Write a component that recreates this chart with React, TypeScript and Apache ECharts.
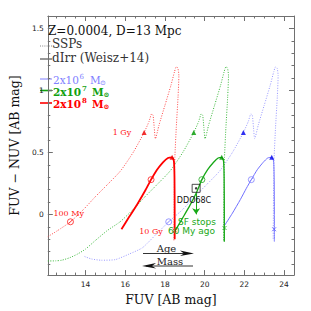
import React, { useEffect, useRef } from "react";
import * as echarts from "echarts";

// Axis ranges and ticks
const X_MIN = 12.1;
const X_MAX = 24.5;
const Y_MIN = -0.49;
const Y_MAX = 1.6;
const xMajor = [14, 16, 18, 20, 22, 24];
const xMinor = [12.5, 13, 13.5, 14.5, 15, 15.5, 16.5, 17, 17.5, 18.5, 19, 19.5, 20.5, 21, 21.5, 22.5, 23, 23.5, 24.5];
const yMajor = [0, 0.5, 1, 1.5];
const yMinor = [-0.4, -0.3, -0.2, -0.1, 0.1, 0.2, 0.3, 0.4, 0.6, 0.7, 0.8, 0.9, 1.1, 1.2, 1.3, 1.4];

// SSP tracks (dotted)
const sspRed = [
  [12.1, -0.18], [12.6, -0.13], [13.24, -0.06], [13.9, 0.04], [14.48, 0.14], [15.1, 0.24], [15.76, 0.35],
  [16.4, 0.5], [16.95, 0.66], [17.2, 0.75], [17.33, 0.81], [17.4, 0.8], [17.46, 0.7], [17.52, 0.61],
  [17.7, 0.72], [18.0, 0.88], [18.3, 1.04], [18.48, 1.15], [18.57, 1.19], [18.65, 1.18], [18.7, 1.12],
  [18.66, 0.95], [18.57, 0.7], [18.5, 0.46], [18.47, 0.2], [18.46, -0.05], [18.45, -0.21],
];
const sspGreen = [
  [12.1, -0.376], [12.5, -0.375], [12.8, -0.37], [13.2, -0.35], [13.6, -0.32], [14.0, -0.28], [14.5, -0.21],
  [15.1, -0.13], [15.74, -0.06], [16.4, 0.04], [16.98, 0.14], [17.6, 0.24], [18.26, 0.35], [18.9, 0.5],
  [19.45, 0.66], [19.7, 0.75], [19.83, 0.81], [19.9, 0.8], [19.96, 0.7], [20.02, 0.61], [20.2, 0.72],
  [20.5, 0.88], [20.8, 1.04], [20.98, 1.15], [21.07, 1.19], [21.15, 1.18], [21.2, 1.12], [21.16, 0.95],
  [21.07, 0.7], [21.0, 0.46], [20.97, 0.2], [20.96, -0.05], [20.95, -0.21],
];
const sspBlue = [
  [13.95, -0.34], [14.3, -0.36], [14.8, -0.37], [15.5, -0.365], [16.2, -0.32], [16.86, -0.27], [17.5, -0.17],
  [18.19, -0.06], [18.9, 0.04], [19.48, 0.14], [20.1, 0.24], [20.76, 0.35], [21.4, 0.5], [21.95, 0.66],
  [22.2, 0.75], [22.33, 0.81], [22.4, 0.8], [22.46, 0.7], [22.52, 0.61], [22.7, 0.72], [23.0, 0.88],
  [23.3, 1.04], [23.48, 1.15], [23.57, 1.19], [23.65, 1.18], [23.7, 1.12], [23.66, 0.95], [23.57, 0.7],
  [23.5, 0.46], [23.47, 0.2], [23.46, -0.05], [23.45, -0.21],
];

// dIrr tracks (solid)
const dirrRed = [
  [15.81, -0.12], [16.2, -0.02], [16.6, 0.08], [17.0, 0.19], [17.3, 0.28], [17.6, 0.36], [17.9, 0.42],
  [18.15, 0.455], [18.36, 0.46], [18.45, 0.43], [18.48, 0.3], [18.49, 0.0], [18.49, -0.2],
];
const dirrGreen = [
  [18.45, -0.15], [18.85, -0.04], [19.25, 0.07], [19.57, 0.17], [19.86, 0.28], [20.15, 0.36], [20.45, 0.42],
  [20.68, 0.455], [20.86, 0.46], [20.95, 0.43], [20.98, 0.3], [20.99, 0.0], [20.99, -0.22],
];
const dirrBlue = [
  [21.0, -0.09], [21.4, 0.01], [21.8, 0.12], [22.1, 0.21], [22.35, 0.28], [22.65, 0.36], [22.95, 0.42],
  [23.18, 0.455], [23.38, 0.46], [23.47, 0.43], [23.5, 0.3], [23.51, 0.0], [23.51, -0.22],
];

// Age markers
const circRed = [[13.24, -0.06], [17.3, 0.28]];
const circGreen = [[19.86, 0.28]];
const circBlue = [[18.19, -0.06], [22.35, 0.28]];
const triRed = [[16.95, 0.66], [18.36, 0.46]];
const triGreen = [[19.45, 0.66], [20.86, 0.46]];
const triBlue = [[21.95, 0.66], [23.38, 0.46]];
const crossRed = [[18.5, -0.13]];
const crossGreen = [[21.0, -0.11]];
const crossBlue = [[23.5, -0.12]];

// Observed galaxy
const ddo68c = [[19.57, 0.21]];
const sfArrow = [[19.57, 0.17], [19.57, 0.0]];

const SERIF = "'DejaVu Serif', serif";
const SANS = "'DejaVu Sans', sans-serif";

const CIRC = "path://M10,5A5,5,0,1,1,0,5A5,5,0,1,1,10,5ZM1.8,8.2L8.2,1.8";
const CROSS = "path://M0,0L10,10M10,0L0,10";

function lineSeries(data: number[][], color: string, width: number, type: any, z: number) {
  return {
    type: "line",
    data,
    symbol: "none",
    showSymbol: false,
    smooth: 0.2,
    lineStyle: { color, width, type },
    z,
    silent: true,
  };
}

function markSeries(data: number[][], symbol: string, size: number, color: string, filled: boolean) {
  return {
    type: "scatter",
    data,
    symbol,
    symbolSize: size,
    itemStyle: filled
      ? { color }
      : { color: "transparent", borderColor: color, borderWidth: 1 },
    z: 5,
    silent: true,
  };
}

function txt(x: number, y: number, text: string, font: string, fill: string, align = "left") {
  return {
    type: "text",
    x,
    y,
    z: 10,
    style: {
      text,
      font,
      fill,
      align,
      verticalAlign: "middle",
      textAlign: align,
      textVerticalAlign: "middle",
    },
  };
}

function massLegend(y: number, exp: string, color: string, bold: boolean, xs: number[]) {
  const w = bold ? "bold " : "";
  return [
    { type: "line", shape: { x1: 40, y1: y - 1, x2: 52, y2: y - 1 }, style: { stroke: color, lineWidth: bold ? 1.6 : 1 } },
    txt(xs[0], y, "2x10", `${w}10.5px ${SERIF}`, color),
    txt(xs[1], y - 3.5, exp, `${w}7px ${SERIF}`, color),
    txt(xs[2], y, "M", `${w}10.5px ${SERIF}`, color),
    txt(xs[3], y + 2.5, "\u2299", `${w}7px ${SERIF}`, color),
  ];
}

export default function App() {
  const ref = useRef<HTMLDivElement>(null);
  useEffect(() => {
    if (!ref.current) return;
    const chart = echarts.init(ref.current, null, { renderer: "svg" });
    const axisCol = "#707070";
    const xBase = {
      type: "value",
      min: X_MIN,
      max: X_MAX,
      splitLine: { show: false },
    };
    const yBase = {
      type: "value",
      min: Y_MIN,
      max: Y_MAX,
      splitLine: { show: false },
    };
    const lineOn = { show: true, onZero: false, lineStyle: { color: axisCol, width: 1 } };
    const lineOff = { show: false, onZero: false };
    const labelStyle = { fontSize: 7.5, color: "#222", fontFamily: SANS };
    const major = (vals: number[]) => ({ show: true, inside: true, length: 5, customValues: vals, lineStyle: { color: axisCol } });
    const minor = (vals: number[]) => ({ show: true, inside: true, length: 2.5, customValues: vals, lineStyle: { color: axisCol } });
    const option: any = {
      animation: false,
      backgroundColor: "#ffffff",
      grid: { left: 33, right: 17, top: 16, bottom: 34, containLabel: false },
      xAxis: [
        {
          ...xBase,
          position: "bottom",
          axisLine: lineOn,
          axisTick: major(xMajor),
          axisLabel: { show: true, customValues: xMajor, margin: 5, ...labelStyle },
          name: "FUV [AB mag]",
          nameLocation: "middle",
          nameGap: 15,
          nameTextStyle: { fontFamily: SERIF, fontSize: 12.5, color: "#111" },
        },
        { ...xBase, position: "bottom", axisLine: lineOff, axisTick: minor(xMinor), axisLabel: { show: false } },
        { ...xBase, position: "top", axisLine: lineOn, axisTick: major(xMajor), axisLabel: { show: false } },
        { ...xBase, position: "top", axisLine: lineOff, axisTick: minor(xMinor), axisLabel: { show: false } },
      ],
      yAxis: [
        {
          ...yBase,
          position: "left",
          axisLine: lineOn,
          axisTick: major(yMajor),
          axisLabel: { show: true, customValues: yMajor, margin: 4, ...labelStyle },
          name: "FUV \u2212 NUV [AB mag]",
          nameLocation: "middle",
          nameGap: 17,
          nameTextStyle: { fontFamily: SERIF, fontSize: 12.5, color: "#111" },
        },
        { ...yBase, position: "left", axisLine: lineOff, axisTick: minor(yMinor), axisLabel: { show: false } },
        { ...yBase, position: "right", axisLine: lineOn, axisTick: major(yMajor), axisLabel: { show: false } },
        { ...yBase, position: "right", axisLine: lineOff, axisTick: minor(yMinor), axisLabel: { show: false } },
      ],
      series: [
        lineSeries(sspBlue, "#9a9aff", 1, [1, 1.5], 1),
        lineSeries(sspGreen, "#3cb83c", 1, [1, 1.5], 1),
        lineSeries(sspRed, "#ff4a4a", 1, [1, 1.5], 1),
        lineSeries(dirrBlue, "#7070ff", 1, "solid", 2),
        lineSeries(dirrGreen, "#18a818", 1.3, "solid", 2),
        lineSeries(dirrRed, "#ff0000", 1.8, "solid", 2),
        markSeries(circRed, CIRC, 6, "#ff1a1a", false),
        markSeries(circGreen, CIRC, 6, "#22aa22", false),
        markSeries(circBlue, CIRC, 6, "#8080ff", false),
        markSeries(triRed, "triangle", 5, "#ee0000", true),
        markSeries(triGreen, "triangle", 5, "#009900", true),
        markSeries(triBlue, "triangle", 5, "#0000ee", true),
        markSeries(crossRed, CROSS, 4, "#ff0000", false),
        markSeries(crossGreen, CROSS, 4, "#22aa22", false),
        markSeries(crossBlue, CROSS, 4, "#6060ff", false),
        {
          type: "lines",
          coordinateSystem: "cartesian2d",
          data: [{ coords: sfArrow }],
          symbol: ["none", "arrow"],
          symbolSize: 6,
          lineStyle: { color: "#18a818", width: 1, opacity: 1 },
          z: 6,
          silent: true,
        },
        {
          type: "scatter",
          data: ddo68c,
          symbol: "rect",
          symbolSize: 8,
          itemStyle: { color: "transparent", borderColor: "#222", borderWidth: 1 },
          z: 7,
          silent: true,
        },
        {
          type: "scatter",
          data: ddo68c,
          symbol: "circle",
          symbolSize: 2.5,
          itemStyle: { color: "#111" },
          z: 8,
          silent: true,
        },
      ],
      graphic: [
        txt(48, 31, "Z=0.0004, D=13 Mpc", `12px ${SERIF}`, "#111"),
        { type: "line", shape: { x1: 40, y1: 46, x2: 52, y2: 46 }, style: { stroke: "#888", lineWidth: 1, lineDash: [1, 1.2] } },
        txt(52, 43.5, "SSPs", `12px ${SERIF}`, "#333"),
        { type: "line", shape: { x1: 40, y1: 59, x2: 52, y2: 59 }, style: { stroke: "#333", lineWidth: 1 } },
        txt(52, 58, "dIrr (Weisz+14)", `12px ${SERIF}`, "#333"),
        ...massLegend(80, "6", "#8080ff", false, [53, 79.5, 90, 100]),
        ...massLegend(91.5, "7", "#10a010", true, [53, 82, 92, 103.5]),
        ...massLegend(104, "8", "#ff0000", true, [53, 82, 92, 103.5]),
        txt(68.7, 213.5, "100 My", `8px ${SERIF}`, "#ff2020", "center"),
        txt(122, 132, "1 Gy", `8px ${SERIF}`, "#ff2020", "center"),
        txt(151, 231.5, "10 Gy", `8px ${SERIF}`, "#ff2020", "center"),
        txt(194, 200.5, "DDO68C", `8px ${SANS}`, "#111", "center"),
        txt(197, 221.5, "SF stops", `9px ${SANS}`, "#18a818", "center"),
        txt(191.5, 230.5, "60 My ago", `9px ${SANS}`, "#18a818", "center"),
        txt(166.5, 248.5, "Age", `10px ${SERIF}`, "#222", "center"),
        txt(170, 261.5, "Mass", `10px ${SERIF}`, "#222", "center"),
        { type: "line", shape: { x1: 143, y1: 253.5, x2: 190, y2: 253.5 }, style: { stroke: "#333", lineWidth: 1 } },
        { type: "polygon", shape: { points: [[180, 250.5], [194, 253.5], [180, 256], [184, 253.5]] }, style: { fill: "#111" } },
        { type: "line", shape: { x1: 146, y1: 266, x2: 193, y2: 266 }, style: { stroke: "#333", lineWidth: 1 } },
        { type: "polygon", shape: { points: [[156, 263], [142, 266], [156, 268.5], [152, 266]] }, style: { fill: "#111" } },
      ],
    };
    chart.setOption(option);
    return () => chart.dispose();
  }, []);
  return (
    <div
      ref={ref}
      style={{ position: "fixed", left: 0, top: 0, width: 311, height: 311, background: "#fff" }}
    />
  );
}
